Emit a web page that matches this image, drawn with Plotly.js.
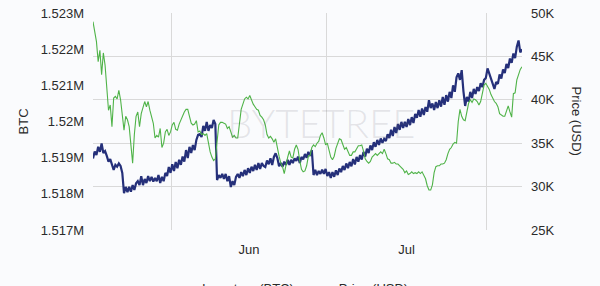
<!DOCTYPE html>
<html>
<head>
<meta charset="utf-8">
<script src="https://cdn.plot.ly/plotly-3.0.1.min.js"></script>
<style>html,body{margin:0;padding:0;background:#fafbfd;}#chart{width:600px;height:286px;}</style>
</head>
<body>
<div id="chart"></div>
<script>
// Sampling: every 8 hours from 2021-05-16 20:00
const startUTC = Date.UTC(2021, 4, 16, 20, 0, 0);
const stepHours = 8;

const inventoryBTC = [
1518980,1519170,1519070,1519300,1519160,1519390,1519130,1519180,1519050,1518890,
1518960,1518800,1518660,1518800,1518750,1518840,1518770,1518580,1518020,1518190,
1518050,1518190,1518060,1518240,1518110,1518290,1518350,1518240,1518490,1518240,
1518410,1518300,1518490,1518350,1518470,1518340,1518440,1518350,1518520,1518300,
1518470,1518350,1518580,1518490,1518740,1518580,1518820,1518630,1518880,1518710,
1518940,1518800,1519030,1518890,1519210,1518990,1519300,1519130,1519350,1519210,
1519490,1519630,1519650,1519570,1519880,1519740,1519990,1519740,1519900,1519820,
1520040,1519930,1518380,1518520,1518440,1518550,1518410,1518550,1518350,1518490,
1518190,1518350,1518240,1518470,1518550,1518440,1518600,1518490,1518660,1518520,
1518710,1518580,1518750,1518630,1518800,1518660,1518850,1518690,1518850,1518770,
1518740,1518920,1518820,1518980,1518800,1519020,1519120,1518990,1518760,1518850,
1518750,1518890,1518800,1518940,1518800,1518940,1518850,1518980,1518910,1519030,
1518850,1519020,1518950,1519100,1519000,1519160,1519050,1519210,1518520,1518660,
1518520,1518630,1518550,1518670,1518550,1518690,1518490,1518600,1518440,1518600,
1518470,1518650,1518520,1518700,1518600,1518770,1518660,1518840,1518710,1518880,
1518760,1518960,1518810,1519020,1518890,1519070,1518950,1519160,1519030,1519250,
1519130,1519340,1519210,1519430,1519300,1519490,1519350,1519530,1519410,1519520,
1519460,1519650,1519540,1519770,1519600,1519850,1519680,1519930,1519770,1519990,
1519820,1519990,1519850,1520070,1519900,1520120,1519960,1520210,1520100,1520320,
1520130,1520360,1520180,1520400,1520270,1520590,1520370,1520500,1520320,1520540,
1520370,1520590,1520410,1520680,1520460,1520730,1520550,1520820,1520650,1521000,
1520820,1521220,1521330,1521150,1521420,1520840,1520430,1520680,1520550,1520820,
1520650,1520900,1520760,1520950,1520840,1521060,1520950,1521150,1521200,1521470,
1521310,1521180,1521040,1520900,1521090,1521040,1521300,1521190,1521440,1521340,
1521590,1521480,1521740,1521620,1521880,1521750,1522070,1522240,1521910,1522000
];

const priceKUSD = [
49.0,47.7,46.7,44.4,45.7,42.9,45.4,44.0,41.1,38.8,
39.4,36.9,40.2,40.4,40.1,41.1,40.0,38.1,36.5,38.1,
37.7,36.9,34.6,32.7,36.0,38.1,38.6,36.9,38.4,39.0,
39.8,39.2,39.8,38.8,38.1,37.3,35.6,35.9,35.7,36.7,
34.5,35.0,36.3,36.6,35.9,36.3,37.1,37.4,36.6,36.5,
37.2,37.7,38.2,38.6,38.9,38.9,38.1,37.3,37.1,37.2,
37.6,36.3,36.4,36.0,36.1,35.9,36.1,35.0,34.0,33.4,
33.0,33.2,34.8,37.1,37.4,37.4,37.3,37.2,36.7,36.9,
36.3,35.7,35.9,35.6,35.6,37.5,38.9,39.5,40.1,40.3,
40.1,40.5,39.9,39.5,39.2,38.9,38.8,38.2,38.0,37.7,
37.1,36.0,35.6,35.8,35.5,35.1,35.5,34.3,33.5,32.7,
32.3,31.5,32.7,33.4,34.1,33.4,33.3,34.3,34.8,34.3,
33.0,32.0,31.7,31.8,32.4,33.5,33.6,34.5,34.8,34.6,
35.0,35.2,35.9,36.2,35.6,34.8,35.0,34.2,33.4,33.1,
33.5,34.4,35.1,35.5,35.4,34.8,34.3,34.5,34.1,33.6,
33.6,34.0,34.0,34.3,34.7,34.7,34.8,34.1,33.2,32.9,
32.7,32.9,33.4,33.6,33.8,33.6,33.8,34.0,33.8,34.3,
33.8,33.2,33.1,32.7,32.7,32.8,32.6,32.6,32.4,32.2,
32.0,31.6,31.8,31.4,31.5,31.7,31.5,31.6,31.5,31.7,
31.5,31.7,31.3,30.9,30.1,29.6,29.6,30.2,31.6,32.3,
32.4,32.4,32.6,32.6,32.7,33.1,33.8,34.3,34.5,34.9,
35.1,35.0,37.5,38.9,38.1,37.7,37.6,38.8,39.6,40.0,
39.7,40.1,40.0,39.8,39.4,39.8,40.7,41.7,41.9,41.5,
41.2,40.6,40.1,39.8,39.6,39.2,38.4,38.2,38.1,38.1,
38.6,39.3,38.6,38.0,40.7,40.8,42.3,43.0,43.5,43.8
];

const leftTickVals = [1517000,1518000,1519000,1520000,1521000,1522000,1523000];
const leftTickText = ['1.517M','1.518M','1.519M','1.52M','1.521M','1.522M','1.523M'];
const rightTickVals = [25000,30000,35000,40000,45000,50000];
const rightTickText = ['25K','30K','35K','40K','45K','50K'];

function pad(n){return (n<10?'0':'')+n;}
const dates = inventoryBTC.map((_, i) => {
  const d = new Date(startUTC + i * stepHours * 3600000);
  return d.getUTCFullYear()+'-'+pad(d.getUTCMonth()+1)+'-'+pad(d.getUTCDate())+' '+pad(d.getUTCHours())+':00';
});
const priceUSD = priceKUSD.map(v => v * 1000);

const FONT = 'Liberation Sans, Arial, Helvetica, sans-serif';
const GRID = '#d9d9d9';

const traces = [
  {x: dates, y: inventoryBTC, name: 'Inventory (BTC)', type: 'scatter', mode: 'lines',
   line: {color: '#25307a', width: 2.2}, yaxis: 'y'},
  {x: dates, y: priceUSD, name: 'Price (USD)', type: 'scatter', mode: 'lines',
   line: {color: '#4fb348', width: 1.1}, yaxis: 'y2'}
];

const layout = {
  width: 600, height: 286,
  margin: {l: 93, r: 78, t: 13, b: 56, autoexpand: false},
  paper_bgcolor: '#fafbfd', plot_bgcolor: '#fafbfd',
  font: {family: FONT, size: 13, color: '#2a2a2a'},
  showlegend: true,
  legend: {orientation: 'h', x: 0.161, xanchor: 'left', y: -0.2, yanchor: 'top',
           font: {family: FONT, size: 13, color: '#2a2a2a'}, bgcolor: 'rgba(0,0,0,0)'},
  xaxis: {type: 'date', dtick: 'M1', tickformat: '%b', ticklabelmode: 'period',
          showgrid: true, gridcolor: GRID, gridwidth: 1, zeroline: false, showline: false,
          ticks: '', ticklabelstandoff: 10},
  yaxis: {range: [1517000, 1523000], tickvals: leftTickVals, ticktext: leftTickText,
          showgrid: false, zeroline: false, showline: false, ticks: '', ticklabelstandoff: 8},
  yaxis2: {overlaying: 'y', side: 'right', range: [25000, 50000], tickvals: rightTickVals,
           ticktext: rightTickText, showgrid: true, gridcolor: GRID, gridwidth: 1,
           zeroline: false, showline: false, ticks: '', ticklabelstandoff: 8},
  annotations: [
    {text: 'BYTETREE', xref: 'paper', yref: 'paper', x: 0.531, y: 0.493,
     xanchor: 'center', yanchor: 'middle', showarrow: false,
     font: {family: 'Lato, ' + FONT, size: 40, weight: 300, color: 'rgba(110,110,120,0.16)'}},
    {text: 'BTC', xref: 'paper', yref: 'paper', x: -0.161, y: 0.5, textangle: -90,
     xanchor: 'center', yanchor: 'middle', showarrow: false,
     font: {family: FONT, size: 13, color: '#2a2a2a'}},
    {text: 'Price (USD)', xref: 'paper', yref: 'paper', x: 1.128, y: 0.5, textangle: 90,
     xanchor: 'center', yanchor: 'middle', showarrow: false,
     font: {family: FONT, size: 13, color: '#2a2a2a'}}
  ]
};

Plotly.newPlot('chart', traces, layout, {displayModeBar: false, staticPlot: true});
</script>
</body>
</html>
